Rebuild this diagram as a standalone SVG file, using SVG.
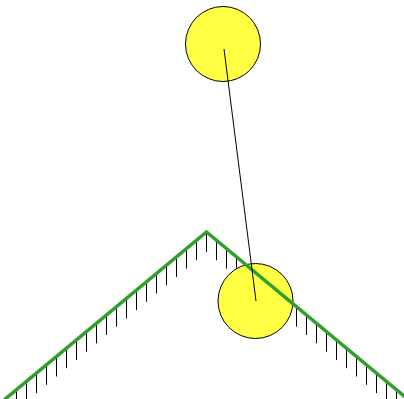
<svg xmlns="http://www.w3.org/2000/svg" width="404" height="399" viewBox="0 0 404 399">
<style>
.tick{stroke:#000;stroke-width:1;fill:none}
.ball{fill:#ffff44;stroke:#000;stroke-width:1}
.ground{stroke:#339e2a;stroke-width:3.5;fill:none;stroke-linejoin:miter}
.rod{stroke:#000;stroke-width:1;fill:none}
</style>
<rect width="404" height="399" fill="#fff"/>
<g id="ground-hatch">
<path class="tick" d="M206.5 232v20 M196.5 240.3v20 M186.5 248.6v20 M176.5 256.9v20 M166.5 265.2v20 M156.5 273.5v20 M146.5 281.8v20 M136.5 290.1v20 M126.5 298.4v20 M116.5 306.7v20 M106.5 315v20 M96.5 323.3v20 M86.5 331.6v20 M76.5 339.9v20 M66.5 348.2v20 M56.5 356.5v20 M46.5 364.8v20 M36.5 373.1v20 M26.5 381.4v20 M16.5 389.7v20 M216.5 240.3v20 M226.5 248.6v20 M236.5 256.9v20 M246.5 265.2v20 M256.5 273.5v20 M266.5 281.8v20 M276.5 290.1v20 M286.5 298.4v20 M296.5 306.7v20 M306.5 315v20 M316.5 323.3v20 M326.5 331.6v20 M336.5 339.9v20 M346.5 348.2v20 M356.5 356.5v20 M366.5 364.8v20 M376.5 373.1v20 M386.5 381.4v20 M396.5 389.7v20"/>
</g>
<g id="ball-top"><circle class="ball" cx="223" cy="44" r="37.5"/></g>
<g id="ball-bottom"><circle class="ball" cx="255.5" cy="301" r="37.5"/></g>
<g id="ground"><path class="ground" d="M-2 405 L206.5 232 L412 402.6"/></g>
<g id="connectors"><line class="rod" x1="224" y1="49" x2="256" y2="301"/></g>
</svg>
